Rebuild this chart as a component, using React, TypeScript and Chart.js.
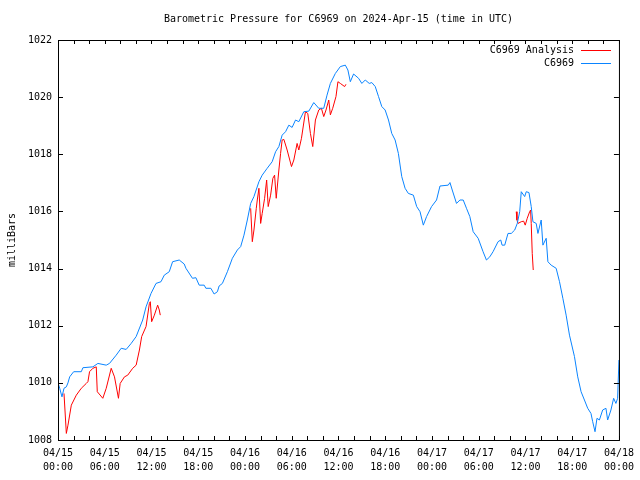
import React, { useEffect, useRef } from "react";
import { Chart, registerables } from "chart.js";

Chart.register(...registerables);

const titleText = "Barometric Pressure for C6969 on 2024-Apr-15 (time in UTC)";
const yAxisTitle = "milliBars";
const seriesNames = ["C6969 Analysis", "C6969"];
const seriesColors = ["#ff0000", "#0a84ff"];

// x in hours since 04/15 00:00 UTC
const xTickValues = [0, 6, 12, 18, 24, 30, 36, 42, 48, 54, 60, 66, 72];
const xTickLabels = [
  ["04/15", "00:00"], ["04/15", "06:00"], ["04/15", "12:00"], ["04/15", "18:00"],
  ["04/16", "00:00"], ["04/16", "06:00"], ["04/16", "12:00"], ["04/16", "18:00"],
  ["04/17", "00:00"], ["04/17", "06:00"], ["04/17", "12:00"], ["04/17", "18:00"],
  ["04/18", "00:00"],
];
const yTickValues = [1008, 1010, 1012, 1014, 1016, 1018, 1020, 1022];

const stationHours = [
  0, 0.22, 0.51, 0.77, 1.07, 1.28, 1.5, 2.01, 2.99, 3.2, 4.48, 5.12, 6.19, 6.61, 7.47, 8.11, 8.75, 9.39,
  10.03, 10.87, 11.3, 11.94, 12.58, 13.22, 13.64, 14.28, 14.71, 15.56, 16.2, 16.42, 17.26, 17.7, 18.12,
  18.76, 18.98, 19.62, 20.04, 20.46, 20.68, 21.1, 21.74, 22.38, 23.02, 23.45, 23.87, 24.3, 24.73, 25.15,
  25.79, 26.21, 26.85, 27.49, 27.93, 28.35, 28.77, 29.21, 29.63, 30.05, 30.49, 30.91, 31.55, 32.19, 32.83,
  33.47, 34.11, 34.53, 34.96, 35.6, 36.24, 36.88, 37.21, 37.52, 37.94, 38.58, 39.0, 39.44, 39.95, 40.28,
  40.72, 41.14, 41.56, 41.99, 42.42, 42.84, 43.27, 43.69, 44.12, 44.55, 44.97, 45.61, 46.04, 46.47, 46.89,
  47.31, 47.95, 48.59, 49.03, 50.09, 50.31, 50.6, 51.15, 51.59, 52.01, 52.43, 52.86, 53.29, 53.93, 54.56,
  54.99, 55.42, 55.84, 56.48, 56.83, 57.0, 57.34, 57.76, 58.18, 58.62, 58.95, 59.26, 59.46, 59.9, 60.1,
  60.45, 60.74, 60.96, 61.38, 61.6, 62.02, 62.24, 62.66, 62.88, 63.3, 63.94, 64.37, 64.8, 65.22, 65.65,
  66.29, 66.71, 67.14, 67.57, 67.99, 68.41, 68.63, 68.93, 69.18, 69.49, 69.91, 70.33, 70.55, 70.97, 71.32,
  71.61, 71.83, 72.0,
];
const stationPressure = [
  1010.0, 1009.81, 1009.51, 1009.81, 1009.86, 1010.0, 1010.21, 1010.39, 1010.39, 1010.53, 1010.56, 1010.68,
  1010.62, 1010.68, 1010.97, 1011.21, 1011.17, 1011.38, 1011.62, 1012.2, 1012.66, 1013.13, 1013.48, 1013.54,
  1013.77, 1013.89, 1014.24, 1014.3, 1014.16, 1014.01, 1013.66, 1013.68, 1013.42, 1013.42, 1013.31, 1013.31,
  1013.11, 1013.19, 1013.39, 1013.48, 1013.89, 1014.36, 1014.65, 1014.77, 1015.17, 1015.7, 1016.28, 1016.52,
  1017.04, 1017.27, 1017.51, 1017.74, 1018.09, 1018.27, 1018.67, 1018.79, 1019.02, 1018.94, 1019.2, 1019.14,
  1019.49, 1019.51, 1019.81, 1019.61, 1019.61, 1020.07, 1020.48, 1020.83, 1021.07, 1021.12, 1020.95, 1020.54,
  1020.81, 1020.66, 1020.48, 1020.6, 1020.48, 1020.51, 1020.37, 1020.02, 1019.67, 1019.55, 1019.2, 1018.73,
  1018.5, 1018.03, 1017.22, 1016.81, 1016.63, 1016.57, 1016.17, 1015.99, 1015.52, 1015.82, 1016.17, 1016.4,
  1016.89, 1016.92, 1017.01, 1016.75, 1016.28, 1016.4, 1016.4, 1016.11, 1015.82, 1015.29, 1015.06, 1014.59,
  1014.3, 1014.41, 1014.59, 1014.94, 1015.0, 1014.82, 1014.82, 1015.23, 1015.23, 1015.35, 1015.58, 1015.99,
  1016.69, 1016.52, 1016.69, 1016.66, 1016.17, 1015.64, 1015.58, 1015.23, 1015.7, 1014.82, 1015.06, 1014.24,
  1014.12, 1014.01, 1013.54, 1012.96, 1012.37, 1011.67, 1010.92, 1010.21, 1009.69, 1009.4, 1009.11, 1008.93,
  1008.64, 1008.29, 1008.76, 1008.7, 1009.05, 1009.11, 1008.7, 1009.05, 1009.46, 1009.28, 1009.46, 1010.8,
];

// null entries break the analysis line into its separate segments
const analysisHours = [
  0.77, 1.07, 1.28, 1.71, 2.35, 2.99, 3.63, 3.84, 4.05, 4.48, 4.91, 5.04, 5.75, 6.19, 6.83, 7.25, 7.76,
  7.98, 8.53, 8.95, 9.59, 10.03, 10.45, 10.74, 11.3, 11.73, 11.85, 12.02, 12.37, 12.79, 13.0, 13.13,
  18,
  24.73, 24.94, 25.15, 25.45, 25.58, 25.79, 26.01, 26.21, 26.52, 26.78, 26.98, 27.29, 27.58, 27.8, 28.01,
  28.35, 28.57, 28.77, 28.99, 29.41, 29.97, 30.27, 30.69, 30.91, 31.25, 31.76, 32.06, 32.4, 32.7, 33.04,
  33.47, 33.81, 34.11, 34.4, 34.75, 34.96, 35.26, 35.68, 35.93, 36.24, 36.79, 36.96,
  48,
  58.82, 58.91, 59.04, 59.46, 59.77, 59.97, 60.23, 60.54, 60.66, 60.74, 60.87, 61.0,
];
const analysisPressure = [
  1009.63, 1008.23, 1008.52, 1009.22, 1009.57, 1009.81, 1009.98, 1010.04, 1010.39, 1010.51, 1010.56, 1009.69,
  1009.46, 1009.81, 1010.51, 1010.21, 1009.46, 1009.98, 1010.21, 1010.27, 1010.51, 1010.62, 1011.15, 1011.62,
  1011.97, 1012.78, 1012.84, 1012.14, 1012.37, 1012.72, 1012.55, 1012.37,
  null,
  1016.11, 1014.94, 1015.35, 1016.11, 1016.4, 1016.81, 1015.58, 1015.93, 1016.46, 1017.1, 1016.17, 1016.57,
  1017.16, 1017.27, 1016.46, 1017.45, 1018.03, 1018.5, 1018.52, 1018.15, 1017.57, 1017.8, 1018.38, 1018.15,
  1018.56, 1019.49, 1019.43, 1018.73, 1018.27, 1019.2, 1019.55, 1019.61, 1019.32, 1019.55, 1019.9, 1019.38,
  1019.61, 1020.02, 1020.54, 1020.48, 1020.37, 1020.45,
  null,
  1015.99, 1015.7, 1015.58, 1015.64, 1015.66, 1015.52, 1015.76, 1015.99, 1016.05, 1015.58, 1014.53, 1013.95,
];

const FONT = "DejaVu Sans Mono";

const gnuplotFrame = {
  id: "gnuplotFrame",
  afterDraw(chart: any) {
    const { ctx, chartArea: a, scales } = chart;
    const xs = scales.x;
    const ys = scales.y;
    ctx.save();
    ctx.strokeStyle = "#000";
    ctx.lineWidth = 1;
    ctx.beginPath();
    // x ticks every 2 hours, bottom and top, inward
    for (let h = 0; h <= 72; h += 2) {
      const px = Math.round(xs.getPixelForValue(h)) + 0.5;
      ctx.moveTo(px, a.bottom);
      ctx.lineTo(px, a.bottom - 4);
      ctx.moveTo(px, a.top);
      ctx.lineTo(px, a.top + 4);
    }
    for (const v of yTickValues) {
      const py = Math.round(ys.getPixelForValue(v)) + 0.5;
      ctx.moveTo(a.left, py);
      ctx.lineTo(a.left + 5, py);
      ctx.moveTo(a.right, py);
      ctx.lineTo(a.right - 5, py);
    }
    ctx.stroke();
    ctx.strokeRect(a.left + 0.5, a.top + 0.5, a.right - a.left, a.bottom - a.top);

    ctx.fillStyle = "#000";
    ctx.font = `10px '${FONT}'`;
    ctx.textBaseline = "middle";
    ctx.textAlign = "center";
    ctx.fillText(titleText, (a.left + a.right) / 2, 19);

    // legend
    ctx.textAlign = "right";
    const legendY = [50, 63];
    seriesNames.forEach((name, i) => {
      ctx.fillStyle = "#000";
      ctx.fillText(name, 574, legendY[i]);
      ctx.strokeStyle = seriesColors[i];
      ctx.beginPath();
      ctx.moveTo(581, legendY[i] + 0.5);
      ctx.lineTo(611, legendY[i] + 0.5);
      ctx.stroke();
    });

    // y axis title
    ctx.save();
    ctx.translate(12, (a.top + a.bottom) / 2);
    ctx.rotate(-Math.PI / 2);
    ctx.textAlign = "center";
    ctx.fillStyle = "#000";
    ctx.fillText(yAxisTitle, 0, 0);
    ctx.restore();
    ctx.restore();
  },
};

export default function App() {
  const canvasRef = useRef<HTMLCanvasElement | null>(null);

  useEffect(() => {
    const canvas = canvasRef.current;
    if (!canvas) return;
    const stationData = stationHours.map((h, i) => ({ x: h, y: stationPressure[i] }));
    const analysisData = analysisHours.map((h, i) => ({ x: h, y: analysisPressure[i] }));
    const chart = new Chart(canvas, {
      type: "line",
      data: {
        datasets: [
          {
            label: seriesNames[0],
            data: analysisData as any,
            borderColor: seriesColors[0],
            borderWidth: 1,
            pointRadius: 0,
            tension: 0,
            spanGaps: false,
            order: 1,
          },
          {
            label: seriesNames[1],
            data: stationData as any,
            borderColor: seriesColors[1],
            borderWidth: 1,
            pointRadius: 0,
            tension: 0,
            order: 0,
          },
        ],
      },
      options: {
        animation: false,
        responsive: false,
        devicePixelRatio: 1,
        layout: { padding: { top: 40, right: 19, left: 0, bottom: 0 } },
        plugins: { legend: { display: false }, title: { display: false }, tooltip: { enabled: false } },
        scales: {
          x: {
            type: "linear",
            min: 0,
            max: 72,
            afterFit: (s: any) => { s.height = 40; },
            afterBuildTicks: (s: any) => { s.ticks = xTickValues.map((v) => ({ value: v })); },
            grid: { display: false, drawTicks: false, tickLength: 0 },
            border: { display: false },
            ticks: {
              autoSkip: false,
              maxRotation: 0,
              minRotation: 0,
              padding: 6,
              color: "#000",
              font: { family: FONT, size: 10, lineHeight: 1.4 },
              callback: (v: any) => xTickLabels[xTickValues.indexOf(Number(v))] as any,
            },
          },
          y: {
            type: "linear",
            min: 1008,
            max: 1022,
            afterFit: (s: any) => { s.width = 58; },
            afterBuildTicks: (s: any) => { s.ticks = yTickValues.map((v) => ({ value: v })); },
            grid: { display: false, drawTicks: false, tickLength: 0 },
            border: { display: false },
            ticks: {
              padding: 6,
              color: "#000",
              font: { family: FONT, size: 10 },
              callback: (v: any) => String(v),
            },
          },
        },
      },
      plugins: [gnuplotFrame],
    });
    return () => chart.destroy();
  }, []);

  return (
    <div style={{ position: "absolute", left: 0, top: 0, width: 640, height: 480, background: "#fff" }}>
      <canvas ref={canvasRef} width={640} height={480} style={{ display: "block", width: 640, height: 480 }} />
    </div>
  );
}
